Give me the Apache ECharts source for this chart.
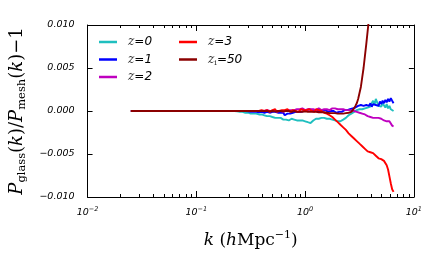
<!DOCTYPE html>
<html><head><meta charset="utf-8">
<script src="https://cdn.jsdelivr.net/npm/echarts@6/dist/echarts.min.js"></script>
<style>html,body{margin:0;padding:0;background:#fff}#c{width:425px;height:264px}</style>
</head><body><div id="c"></div>
<script>
// k values (h Mpc^-1)
const kValues = [0.025,0.03,0.04,0.05,0.063,0.08,0.1,0.126,0.158,0.2,
0.224,0.237,0.251,0.266,0.282,0.299,0.316,0.335,0.355,0.376,0.398,0.422,0.447,0.473,
0.501,0.516,0.531,0.546,0.562,0.579,0.596,0.613,0.631,0.649,
0.668,0.688,0.708,0.729,0.750,0.772,0.794,0.818,0.841,0.866,
0.891,0.917,0.944,0.972,1.0,1.029,1.059,1.090,1.122,1.155,
1.189,1.223,1.259,1.296,1.334,1.372,1.413,1.454,1.496,1.540,
1.585,1.631,1.679,1.728,1.778,1.830,1.884,1.939,1.995,2.054,
2.113,2.175,2.239,2.304,2.371,2.441,2.512,2.585,2.661,2.738,
2.818,2.901,2.985,3.073,3.162,3.255,3.350,3.447,3.548,3.652,
3.758,3.868,3.981,4.097,4.217,4.340,4.467,4.597,4.732,4.870,
5.012,5.158,5.309,5.464,5.623,5.788,5.957,6.131,6.310,6.5];

// P_glass/P_mesh - 1, in units of 1e-4
const z0 = [0,0,0,0,0,0,0,0,0,0,
0,-0.5,-1,-1,-2,-2,-3,-3,-3,-4,-4,-5,-6,-6,
-7,-6,-8,-7,-8,-9,-8,-9,-10,-9,
-10,-9,-11,-10,-9,-11,-10,-12,-11,-10,
-11,-12,-11,-13,-12,-11,-13,-12,-14,-12,
-11,-10,-9,-8,-9,-7,-8,-9,-8,-9,
-9,-10,-9,-11,-10,-12,-11,-13,-12,-11,
-12,-11,-10,-9,-8,-6,-5,-4,-3,-2,
-1,0,1,0,2,3,2,4,3,5,
4,6,5,9,12,7,14,10,6,8,
5,9,7,4,8,3,6,2,1,0];

const z1 = [0,0,0,0,0,0,0,0,0,0,
0,0,0,0,0,-0.5,-1,-1,-1,-1.5,-1,-2,-1,-2,
-1,-2,-1,-2,-2,-3,-2,-3,-2,-5,
-6,-3,-2,-3,-1,-2,-2,-1,-2,-1,
0,-1,1,0,1,0,1,2,0,1,
0,1,-1,0,1,0,-1,1,0,1,
0,-1,1,0,-1,0,-1,-2,-1,-1,
-2,-1,0,1,2,1,3,2,4,3,
5,4,3,6,4,7,5,6,4,7,
8,6,9,5,8,10,7,9,6,11,
8,12,9,13,10,14,11,15,12,9];

const z2 = [0,0,0,0,0,0,0,0,0,0,
0,0,0,0,0,0,0,0,0,0,0,0,1,0,
0,1,0,-1,0,1,0,1,-1,0,
1,0,1,0,1,2,1,0,2,1,
2,1,3,2,1,3,2,4,2,3,
2,3,1,2,3,2,1,3,2,1,
2,3,1,2,3,2,3,1,2,3,
2,1,2,3,1,2,1,0,1,-1,
0,-2,-1,-3,-2,-4,-3,-5,-4,-5,
-6,-5,-7,-6,-8,-7,-8,-9,-8,-10,
-9,-10,-11,-10,-12,-13,-12,-14,-17,-18];

const z3 = [0,0,0,0,0,0,0,0,0,0,
0,0,0,0,0,0,0,0,0,0,1,0,1,-1,
1,0,2,-1,1,0,2,1,-1,1,
0,2,1,-1,0,1,3,0,1,-1,
1,2,0,1,3,1,0,2,1,0,
1,-1,2,0,1,-1,0,-1,-2,-2,
-3,-4,-5,-6,-7,-9,-10,-11,-13,-14,
-16,-17,-19,-21,-22,-24,-26,-27,-29,-31,
-32,-34,-35,-37,-38,-40,-41,-43,-44,-45,
-47,-46,-48,-50,-49,-51,-52,-53,-55,-54,
-56,-57,-58,-60,-63,-68,-76,-84,-91,-94];

const zi50 = [0,0,0,0,0,0,0,0,0,0,
0,0,0,0,0,0,0,0,0,0,0,0,0,-0.5,
0,0,-0.5,0,0,-0.5,0,0,-0.5,0,
0,-0.5,0,-0.5,-1,-0.5,0,-0.5,-1,-0.5,
-1,-0.5,-1,-1,-0.5,-1,-1,-1.5,-1,-1,
-1,-1.5,-1,-1,-1.5,-1,-1.5,-2,-1.5,-2,
-2,-2,-2.5,-2,-2.5,-3,-2.5,-3,-3,-2.5,
-3,-3,-3,-3,-2.5,-2.5,-2,-2,-1,1,
3,6,9,14,21,28,39,50,64,78,
93,108,122,140,null,null,null,null,null,null,
null,null,null,null,null,null,null,null,null,null];

const VALUE_UNIT = 1e-4;
const minorTickK = [0.02,0.03,0.04,0.05,0.06,0.07,0.08,0.09,
0.2,0.3,0.4,0.5,0.6,0.7,0.8,0.9,2,3,4,5,6,7,8,9];

const seriesNames = ['z=0','z=1','z=2','z=3','zi=50'];
const seriesValues = [z0, z1, z2, z3, zi50];
const seriesColors = ['#1FBFBF','#0000FF','#BF00BF','#FF0000','#8B0000'];
const legendLabels = {
  'z=0': '{z|z}{s|=0}', 'z=1': '{z|z}{s|=1}', 'z=2': '{z|z}{s|=2}',
  'z=3': '{z|z}{s|=3}', 'zi=50': '{z|z}{sub|i}{s|=50}'
};

const chart = echarts.init(document.getElementById('c'), null, {renderer:'canvas'});

const legendText = {
  color:'#000', lineHeight:14,
  rich:{
    z:{fontFamily:'DejaVu Serif', fontStyle:'italic', fontSize:12, color:'#333', padding:[0,0,0,6]},
    s:{fontFamily:'DejaVu Sans', fontStyle:'italic', fontSize:12, color:'#000'},
    sub:{fontFamily:'DejaVu Serif', fontSize:8, color:'#333', verticalAlign:'bottom', lineHeight:9}
  }
};

const lineSeries = seriesNames.map((n, si) => ({
  name:n, type:'line', showSymbol:false, symbol:'none',
  data: kValues.map((k, i) => [k, seriesValues[si][i] == null ? null : seriesValues[si][i] * VALUE_UNIT]),
  lineStyle:{width:1.9, color:seriesColors[si]}, itemStyle:{color:seriesColors[si]},
  connectNulls:false, clip:true, animation:false
}));

const axisCommon = {
  axisLine:{onZero:false, lineStyle:{color:'#000', width:1}},
  splitLine:{show:false}
};

const option = {
  animation:false,
  backgroundColor:'#fff',
  grid:{left:85, right:7, top:25, bottom:67, containLabel:false},
  legend:[
    {orient:'vertical', left:99, top:35, padding:0, itemWidth:18, itemHeight:2.5, itemGap:3.5, icon:'rect',
     data:['z=0','z=1','z=2'], formatter:n=>legendLabels[n], textStyle:legendText, selectedMode:false},
    {orient:'vertical', left:179, top:35, padding:0, itemWidth:18, itemHeight:2.5, itemGap:3.5, icon:'rect',
     data:['z=3','zi=50'], formatter:n=>legendLabels[n], textStyle:legendText, selectedMode:false}
  ],
  xAxis:[
    Object.assign({type:'log', logBase:10, min:0.01, max:10, position:'bottom',
      axisTick:{inside:true, length:6, lineStyle:{color:'#000'}},
      axisLabel:{margin:9, formatter:v=>{const e=Math.round(Math.log10(v));return '{b|10}{sup|'+(e<0?'−':'')+Math.abs(e)+'}';},
        rich:{b:{fontFamily:'DejaVu Sans', fontStyle:'italic', fontSize:9.5, color:'#000', lineHeight:13},
              sup:{fontFamily:'DejaVu Sans', fontStyle:'italic', fontSize:6.5, color:'#000', verticalAlign:'top', lineHeight:7}}},
      name:'{i|k}{r| (}{i|h}{r|Mpc}{sup|−1}{r|)}', nameLocation:'middle', nameGap:33,
      nameTextStyle:{rich:{
        i:{fontFamily:'DejaVu Serif', fontStyle:'italic', fontSize:17, color:'#000', lineHeight:22},
        r:{fontFamily:'DejaVu Serif', fontSize:17, color:'#000', lineHeight:22},
        sup:{fontFamily:'DejaVu Serif', fontSize:11, color:'#000', verticalAlign:'top', lineHeight:12}}}
    }, axisCommon),
    Object.assign({type:'log', logBase:10, min:0.01, max:10, position:'top',
      axisTick:{inside:true, length:6, lineStyle:{color:'#000'}}, axisLabel:{show:false}}, axisCommon)
  ],
  yAxis:[
    Object.assign({type:'value', min:-0.01, max:0.01, interval:0.005, position:'left',
      axisTick:{inside:true, length:5, lineStyle:{color:'#000'}},
      axisLabel:{margin:13, formatter:v=>(v<0?'−':'')+Math.abs(v).toFixed(3),
        fontFamily:'DejaVu Sans', fontStyle:'italic', fontSize:9.5, color:'#000'},
      name:'{i|P}{sub|glass}{r|(}{i|k}{r|)/}{i|P}{sub|mesh}{r|(}{i|k}{r|)−1}', nameLocation:'middle', nameGap:57, nameRotate:90,
      nameTextStyle:{rich:{
        i:{fontFamily:'DejaVu Serif', fontStyle:'italic', fontSize:18, color:'#000', lineHeight:23},
        r:{fontFamily:'DejaVu Serif', fontSize:18, color:'#000', lineHeight:23},
        sub:{fontFamily:'DejaVu Serif', fontSize:11.5, color:'#000', verticalAlign:'bottom', lineHeight:13}}}
    }, axisCommon),
    Object.assign({type:'value', min:-0.01, max:0.01, interval:0.005, position:'right',
      axisTick:{inside:true, length:5, lineStyle:{color:'#000'}}, axisLabel:{show:false}}, axisCommon)
  ],
  series: lineSeries.concat([{
    type:'custom', name:'minorTicks', silent:true, animation:false, clip:false,
    data: minorTickK.map(k=>[k, 0]), encode:{x:0, y:1},
    renderItem:(params, api)=>{
      const x = Math.round(api.coord([api.value(0), 0])[0]) + 0.5;
      const cs = params.coordSys;
      const top = cs.y, bot = cs.y + cs.height;
      return {type:'group', children:[
        {type:'line', shape:{x1:x, y1:bot, x2:x, y2:bot-3}, style:{stroke:'#000', lineWidth:1}},
        {type:'line', shape:{x1:x, y1:top, x2:x, y2:top+3}, style:{stroke:'#000', lineWidth:1}}
      ]};
    }
  }])
};
chart.setOption(option);
</script>
</body></html>
